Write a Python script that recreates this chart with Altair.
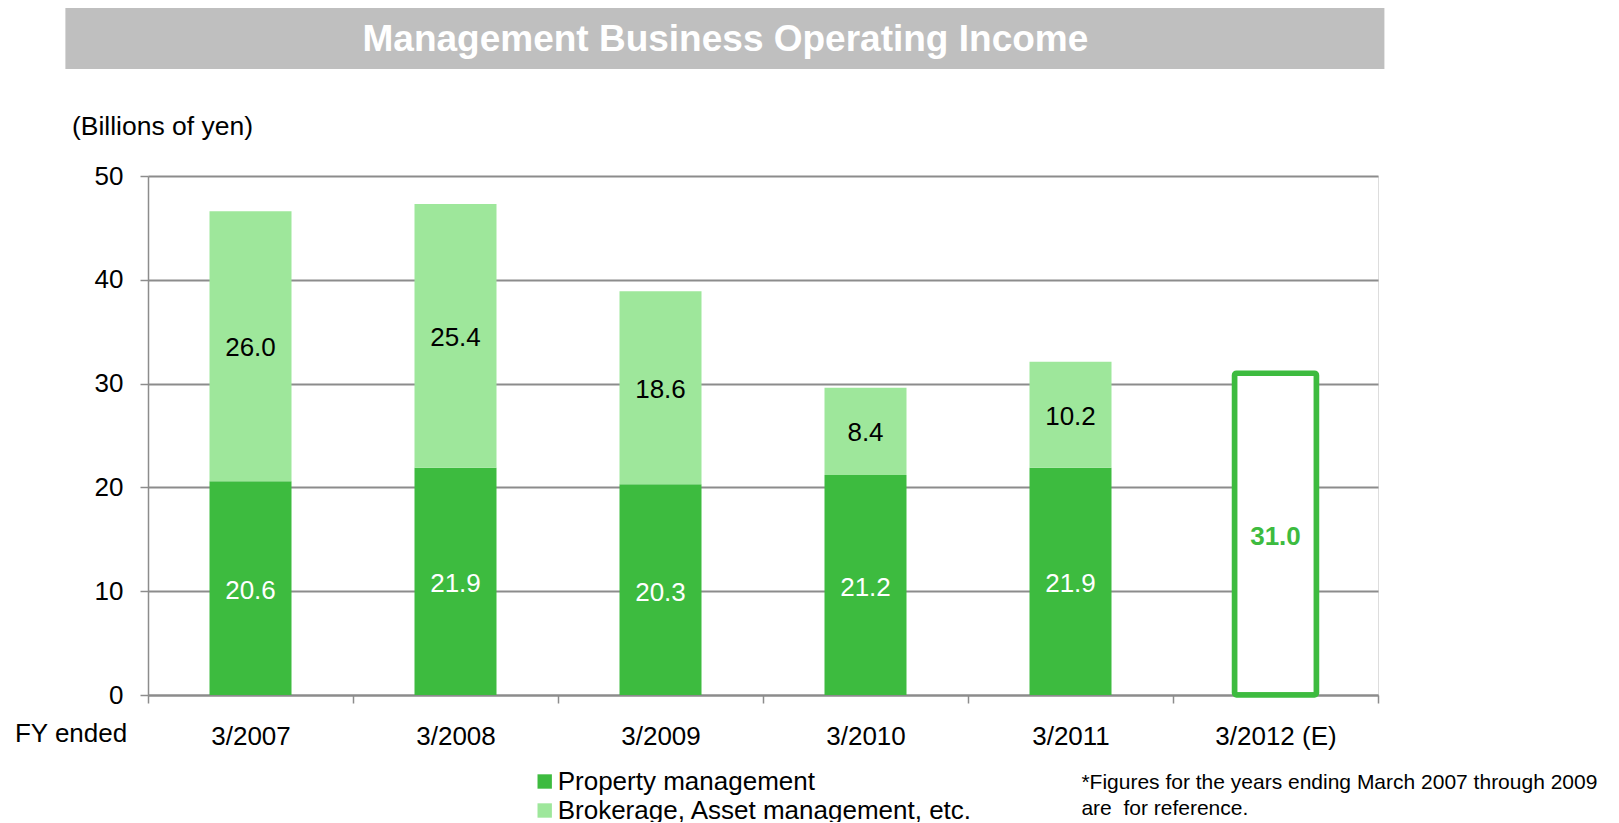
import altair as alt
import pandas as pd

# ---- data ----
categories = ["3/2007", "3/2008", "3/2009", "3/2010", "3/2011", "3/2012 (E)"]
property_mgmt = [20.6, 21.9, 20.3, 21.2, 21.9]
brokerage = [26.0, 25.4, 18.6, 8.4, 10.2]
forecast_category = "3/2012 (E)"
forecast_total = [31.0]
series_names = ["Property management", "Brokerage, Asset management, etc."]
series_colors = ["#3dbb3f", "#9ee79b"]
y_ticks = [0, 10, 20, 30, 40, 50]
title_text = "Management Business Operating Income"
y_title = "(Billions of yen)"
x_title = "FY ended"
footnote_lines = ["*Figures for the years ending March 2007 through 2009",
                  "are \u00a0for reference."]

FONT = "Liberation Sans"
GREEN = "#3dbb3f"
GRID = "#8c8c8c"
FS = 26

# ---- tables built from the lists ----
rows = []
for cat, p, b in zip(categories[:5], property_mgmt, brokerage):
    rows.append({"cat": cat, "series": series_names[0], "y0": 0.0, "y1": p,
                 "mid": p / 2, "value": p, "ord": 0})
    rows.append({"cat": cat, "series": series_names[1], "y0": p, "y1": p + b,
                 "mid": p + b / 2, "value": b, "ord": 1})
df = pd.DataFrame(rows)
df_f = pd.DataFrame({"cat": [forecast_category], "total": forecast_total,
                     "mid": [v / 2 for v in forecast_total]})

x_scale = alt.Scale(domain=categories, paddingInner=0, paddingOuter=0)
y_scale = alt.Scale(domain=[0, 50], nice=False)

x_axis = alt.Axis(title=x_title, labelAngle=0, labelFontSize=FS, labelColor="black",
                  labelFont=FONT, labelPadding=20, tickBand="extent", tickSize=8,
                  tickColor=GRID, tickWidth=1.5, domainColor=GRID, domainWidth=2,
                  titleFontSize=FS, titleFontWeight="normal", titleColor="black",
                  titleFont=FONT, titleAnchor="start", titleAlign="left",
                  titleBaseline="alphabetic", titleX=-133.6, titleY=46)
y_axis = alt.Axis(title=y_title, values=y_ticks, labelFontSize=FS, labelColor="black",
                  labelFont=FONT, labelPadding=17, tickSize=8, tickColor=GRID,
                  tickWidth=1.5, domainColor=GRID, domainWidth=1.5,
                  gridColor=GRID, gridWidth=2, grid=True,
                  titleFontSize=26.5, titleFontWeight="normal", titleColor="black",
                  titleFont=FONT, titleAngle=0, titleAlign="left",
                  titleBaseline="alphabetic", titleX=-76.6, titleY=-41.5)


def X(field="cat"):
    return alt.X(f"{field}:N", sort=categories, scale=x_scale, axis=x_axis)


def Y(field):
    return alt.Y(f"{field}:Q", scale=y_scale, axis=y_axis)


band = alt.RelativeBandSize(band=0.4)

deco = pd.DataFrame({"k": [0]})
title_band = alt.Chart(deco).mark_rect(color="#bfbfbf").encode(
    x=alt.value(-82.6), x2=alt.value(1236.4), y=alt.value(-169), y2=alt.value(-107)
)
title_mark = alt.Chart(deco).mark_text(
    text=title_text, font=FONT, fontSize=37, fontWeight="bold", color="white",
    align="center", baseline="middle"
).encode(x=alt.value(577.4), y=alt.value(-136))

bars = alt.Chart(df).mark_bar(width=band).encode(
    x=X(), y=Y("y0"), y2="y1:Q",
    color=alt.Color("series:N", scale=alt.Scale(domain=series_names, range=series_colors),
                    legend=alt.Legend(title=None, orient="none", legendX=383.7, legendY=592.5,
                                      direction="vertical", labelFontSize=FS,
                                      labelFont=FONT, labelColor="black", labelLimit=0,
                                      symbolType="square", symbolSize=207,
                                      symbolStrokeWidth=0, rowPadding=3,
                                      labelOffset=0, padding=0)),
    order=alt.Order("ord:Q"),
)

forecast_bar = alt.Chart(df_f).mark_bar(
    width=band, fill="white", stroke=GREEN, strokeWidth=5.5, cornerRadius=2,
    strokeJoin="round"
).encode(x=X(), y=Y("total"))

lbl_dark = alt.Chart(df).transform_filter(alt.datum.ord == 0).mark_text(
    fontSize=FS, font=FONT, color="white", baseline="middle", dy=3
).encode(x=X(), y=Y("mid"), text=alt.Text("value:Q", format=".1f"))

lbl_light = alt.Chart(df).transform_filter(alt.datum.ord == 1).mark_text(
    fontSize=FS, font=FONT, color="black", baseline="middle", dy=2
).encode(x=X(), y=Y("mid"), text=alt.Text("value:Q", format=".1f"))

lbl_f = alt.Chart(df_f).mark_text(
    fontSize=FS, font=FONT, color=GREEN, fontWeight="bold", baseline="middle", dy=3
).encode(x=X(), y=Y("mid"), text=alt.Text("total:Q", format=".1f"))

footnote = alt.Chart(deco).mark_text(
    text=footnote_lines, font=FONT, fontSize=21, color="black", align="left",
    baseline="alphabetic", lineHeight=26
).encode(x=alt.value(933.4), y=alt.value(613))

chart = alt.layer(
    title_band, title_mark, bars, forecast_bar, lbl_dark, lbl_light, lbl_f, footnote
).properties(
    width=1230, height=519,
    autosize=alt.AutoSizeParams(type="none"),
    padding={"left": 140, "top": 168, "right": 233, "bottom": 127},
).configure_view(stroke=None).configure(font=FONT)

chart.save("out.html", embed_options={"renderer": "svg", "actions": False})
